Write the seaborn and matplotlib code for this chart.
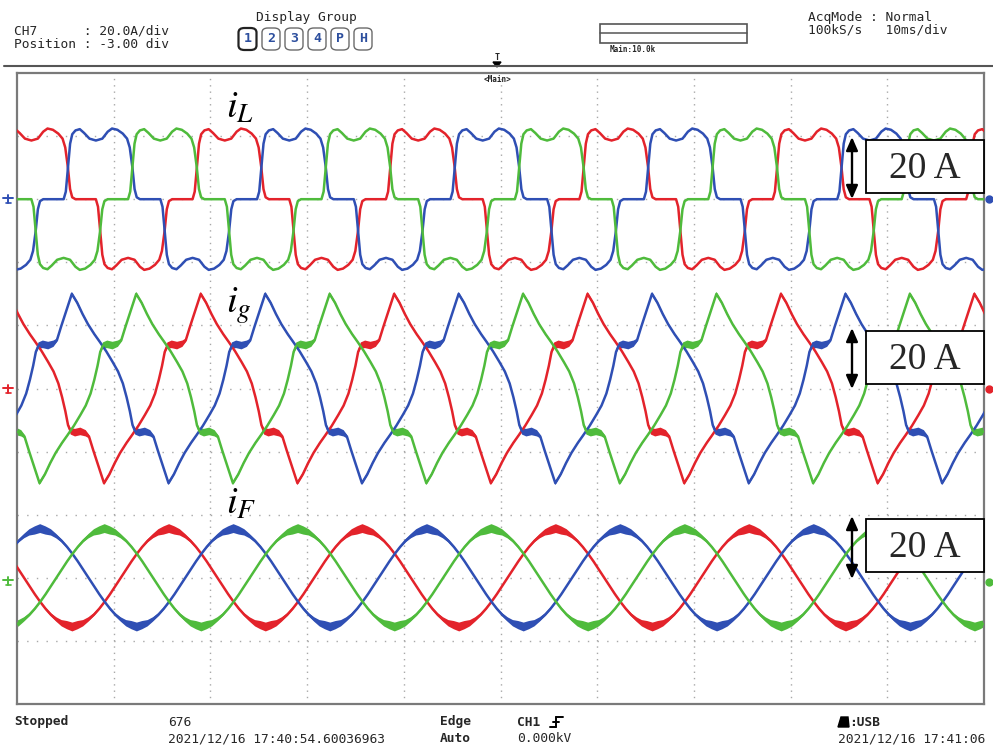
import numpy as np
import pandas as pd
import matplotlib
matplotlib.use("Agg")
import matplotlib.pyplot as plt
import seaborn as sns
from matplotlib.patches import Rectangle, FancyBboxPatch, Polygon
from matplotlib.lines import Line2D

# ------------------------------------------------------------------ data
PERIOD_MS = 20.0          # 50 Hz fundamental
PHASES = ["red", "blue", "green"]

# i_L : one period of the red phase, degrees from its rise to the upper level, value in div
IL_DEG = [-8, -4, 0, 4, 8, 14, 22, 30, 40, 52, 64, 74, 82, 92, 102, 110, 115, 120, 124, 128, 134,
          172, 176, 180, 184, 188, 194, 202, 210, 220, 232, 244, 254, 262, 272, 282, 290, 295, 300,
          304, 308, 314]
IL_VAL = [0.0, 0.12, 0.50, 0.88, 1.03, 1.09, 1.11, 1.05, 0.96, 0.93, 0.96, 1.07, 1.12, 1.10, 1.04,
          0.96, 0.82, 0.50, 0.16, 0.03, 0.0,
          0.0, -0.12, -0.50, -0.88, -1.03, -1.09, -1.11, -1.05, -0.96, -0.93, -0.96, -1.07, -1.12,
          -1.10, -1.04, -0.96, -0.82, -0.50, -0.16, -0.03, 0.0]
IL_NOISE = [0.01] * len(IL_DEG)   # half-thickness of the noisy trace, div
IL_REF_MS = {"red": -1.40, "blue": 5.27, "green": 11.93}

# i_g : one period, degrees from the positive peak, value in div
IG_DEG = [0, 10, 20, 30, 42, 52, 64, 76, 86, 95, 102, 108, 113, 118, 126, 136, 146, 152, 160, 170,
          180, 190, 200, 210, 222, 232, 244, 256, 266, 275, 282, 288, 293, 298, 306, 316, 326, 332,
          340, 350]
IG_VAL = [1.50, 1.36, 1.18, 1.02, 0.86, 0.74, 0.59, 0.42, 0.27, 0.08, -0.14, -0.36, -0.58, -0.68,
          -0.70, -0.68, -0.71, -0.76, -0.98, -1.24,
          -1.50, -1.36, -1.18, -1.02, -0.86, -0.74, -0.59, -0.42, -0.27, -0.08, 0.14, 0.36, 0.58,
          0.68, 0.70, 0.68, 0.71, 0.76, 0.98, 1.24]
IG_NOISE = [0.03, 0.025, 0.02, 0.015, 0.015, 0.015, 0.012, 0.01, 0.01, 0.01, 0.01, 0.015, 0.03,
            0.05, 0.06, 0.06, 0.05, 0.03, 0.02, 0.02,
            0.03, 0.025, 0.02, 0.015, 0.015, 0.015, 0.012, 0.01, 0.01, 0.01, 0.01, 0.015, 0.03,
            0.05, 0.06, 0.06, 0.05, 0.03, 0.02, 0.02]
IG_REF_MS = {"red": -1.00, "blue": 5.67, "green": 12.33}

# i_F : one period, degrees from the positive peak, value in div
IF_DEG = list(range(0, 360, 10))
IF_VAL = [0.78, 0.75, 0.72, 0.66, 0.585, 0.49, 0.38, 0.26, 0.13, 0.0, -0.13, -0.26, -0.38, -0.49,
          -0.585, -0.66, -0.72, -0.75, -0.78, -0.75, -0.72, -0.66, -0.585, -0.49, -0.38, -0.26,
          -0.13, 0.0, 0.13, 0.26, 0.38, 0.49, 0.585, 0.66, 0.72, 0.75]
IF_NOISE = [0.07, 0.065, 0.05, 0.035, 0.025, 0.02, 0.015, 0.012, 0.012, 0.012, 0.012, 0.012,
            0.015, 0.02, 0.025, 0.035, 0.05, 0.065,
            0.07, 0.065, 0.05, 0.035, 0.025, 0.02, 0.015, 0.012, 0.012, 0.012, 0.012, 0.012,
            0.015, 0.02, 0.025, 0.035, 0.05, 0.065]
IF_REF_MS = {"blue": 2.40, "green": 9.07, "red": 15.73}

CHANNELS = [("iL", IL_DEG, IL_VAL, IL_NOISE, IL_REF_MS),
            ("ig", IG_DEG, IG_VAL, IG_NOISE, IG_REF_MS),
            ("iF", IF_DEG, IF_VAL, IF_NOISE, IF_REF_MS)]

# ------------------------------------------------------------------ layout / style
W, H = 993, 751
ZERO_DIV = {"iL": 8.0, "ig": 5.0, "iF": 2.0}
COLORS = {"red": "#e3232b", "blue": "#2f4fb4", "green": "#4fbb3c"}
MONO = ["DejaVu Sans Mono"]


def P(x, y):
    return x / W, 1 - y / H


rows = []
for ch, deg, val, noise, refs in CHANNELS:
    deg = np.asarray(deg, float)
    val = np.asarray(val, float)
    noise = np.asarray(noise, float)
    for ph in PHASES:
        ts, ys, ns = [], [], []
        for k in range(-2, 8):
            ts.append(refs[ph] + (deg / 360.0 + k) * PERIOD_MS)
            ys.append(val + ZERO_DIV[ch])
            ns.append(noise)
        t = np.concatenate(ts)
        y = np.concatenate(ys)
        n = np.concatenate(ns)
        m = (t > -3) & (t < 103)
        rows.append(pd.DataFrame({"t": t[m], "y": y[m], "lo": y[m] - n[m], "hi": y[m] + n[m],
                                  "phase": ph, "unit": f"{ch}-{ph}"}))
df = pd.concat(rows, ignore_index=True)

sns.set_style("white")
fig = plt.figure(figsize=(W / 100, H / 100), dpi=100)
fig.patch.set_facecolor("white")
ax = fig.add_axes([17 / W, 1 - 704 / H, 967 / W, 631 / H])
ax.set_xlim(0, 100)
ax.set_ylim(0, 10)
for s in ax.spines.values():
    s.set_color("#7a7a7a")
    s.set_linewidth(1.6)

# dotted graticule
for x in range(10, 100, 10):
    ax.axvline(x, color="#a8a8a8", lw=1.0, ls=(0, (1.0, 3.54)), zorder=1)
for yv in range(1, 10):
    ax.axhline(yv, color="#a8a8a8", lw=1.0, ls=(0, (1.0, 5.96)), zorder=1)

# noisy band of each trace
for unit, g in df.groupby("unit", sort=False):
    ax.fill_between(g["t"], g["lo"], g["hi"], color=COLORS[g["phase"].iloc[0]], lw=0, zorder=2)

sns.lineplot(data=df, x="t", y="y", hue="phase", hue_order=PHASES, palette=COLORS,
             units="unit", estimator=None, sort=False, legend=False, lw=1.8, ax=ax, zorder=3)
ax.set_xlim(0, 100)
ax.set_ylim(0, 10)
ax.set_xticks([])
ax.set_yticks([])
ax.set_xlabel("")
ax.set_ylabel("")

# ------------------------------------------------------------------ labels on the traces
plt.rcParams["mathtext.fontset"] = "stix"
for txt, yb in [(r"$i_L$", 118), (r"$i_g$", 313), (r"$i_F$", 514)]:
    fig.text(*P(226, yb), txt, fontsize=28, color="black", va="baseline", ha="left")

# scale boxes with double arrows
for top, bot, box_top, box_bot, base in [(137, 199, 140, 193, 178), (328, 389, 331, 384, 369),
                                         (516, 579, 519, 572, 557)]:
    fig.add_artist(Rectangle(P(866, box_bot), 118 / W, (box_bot - box_top) / H,
                             transform=fig.transFigure, facecolor="white", edgecolor="black",
                             lw=1.3, zorder=10))
    fig.text(*P(925, base), "20 A", family=["Liberation Serif"], fontsize=27, ha="center",
             va="baseline", zorder=11)
    ax.annotate("", xy=P(852, top), xytext=P(852, bot), xycoords="figure fraction",
                textcoords="figure fraction",
                arrowprops=dict(arrowstyle="<|-|>,head_length=0.8,head_width=0.35", lw=1.7,
                                color="black", shrinkA=0, shrinkB=0), zorder=12,
                annotation_clip=False)

# channel ground markers (left) and right edge markers
for yy, c in [(198, COLORS["blue"]), (388, COLORS["red"]), (580, COLORS["green"])]:
    fig.add_artist(Line2D([3 / W, 13 / W], [1 - yy / H] * 2, color=c, lw=1.4))
    fig.add_artist(Line2D([8 / W, 8 / W], [1 - (yy - 3) / H, 1 - (yy + 5) / H], color=c, lw=1.4))
    fig.add_artist(Line2D([5.5 / W, 10.5 / W], [1 - (yy + 5) / H] * 2, color=c, lw=1.2))
for yy, c in [(199, COLORS["blue"]), (389, COLORS["red"]), (582, COLORS["green"])]:
    fig.add_artist(Line2D([989 / W], [1 - yy / H], marker="o", ms=5, color=c, mec=c))

# ------------------------------------------------------------------ header
fig.add_artist(Line2D([4 / W, 1.0], [1 - 66 / H] * 2, color="#555555", lw=1.5))
fig.text(*P(14, 31), "CH7      : 20.0A/div", family=MONO, fontsize=9.3, va="center")
fig.text(*P(14, 44), "Position : -3.00 div", family=MONO, fontsize=9.3, va="center")
fig.text(*P(306, 17), "Display Group", family=MONO, fontsize=9.3, va="center", ha="center")
for i, (lab, cx) in enumerate(zip(["1", "2", "3", "4", "P", "H"],
                                  [247.5, 271, 294, 317, 340, 363])):
    fig.add_artist(FancyBboxPatch(P(cx - 9, 50), 18 / W, 22 / H,
                                  boxstyle="round,pad=0.0,rounding_size=0.006",
                                  transform=fig.transFigure, facecolor="white",
                                  edgecolor="#222222" if i == 0 else "#6a6a6a",
                                  lw=1.6 if i == 0 else 1.0))
    fig.text(*P(cx, 39), lab, family=MONO, fontsize=9.5, weight="bold", color="#2d4f9e",
             ha="center", va="center")
fig.add_artist(Rectangle(P(600, 43), 147 / W, 19 / H, transform=fig.transFigure,
                         facecolor="white", edgecolor="#555555", lw=1.2))
fig.add_artist(Line2D([600 / W, 747 / W], [1 - 33 / H] * 2, color="#555555", lw=1.1))
fig.text(*P(610, 50), "Main:10.0k", family=MONO, fontsize=5.5, weight="bold", va="center")
fig.text(*P(808, 17), "AcqMode : Normal", family=MONO, fontsize=9.3, va="center")
fig.text(*P(808, 30), "100kS/s   10ms/div", family=MONO, fontsize=9.3, va="center")
fig.text(*P(497, 58), "T", family=MONO, fontsize=6, weight="bold", ha="center", va="center")
fig.add_artist(Polygon([P(493, 62), P(501, 62), P(497, 67)], closed=True,
                       transform=fig.transFigure, color="black"))
fig.text(*P(497, 80), "<Main>", family=MONO, fontsize=5.5, weight="bold", ha="center",
         va="center")

# ------------------------------------------------------------------ footer
FS = 9.3
fig.text(*P(14, 722), "Stopped", family=MONO, fontsize=FS, weight="bold", va="center")
fig.text(*P(168, 722), "676", family=MONO, fontsize=FS, va="center")
fig.text(*P(168, 739), "2021/12/16 17:40:54.60036963", family=MONO, fontsize=FS, va="center")
fig.text(*P(440, 722), "Edge", family=MONO, fontsize=FS, weight="bold", va="center")
fig.text(*P(440, 739), "Auto", family=MONO, fontsize=FS, weight="bold", va="center")
fig.text(*P(517, 722), "CH1", family=MONO, fontsize=FS, weight="bold", va="center")
for xs, ys in [([550, 556], [727, 727]), ([556, 556], [727, 717]), ([556, 563], [717, 717]),
               ([553, 559], [722, 722])]:
    fig.add_artist(Line2D([x / W for x in xs], [1 - y / H for y in ys], color="black", lw=1.4))
fig.text(*P(517, 739), "0.000kV", family=MONO, fontsize=FS, va="center")
fig.add_artist(Polygon([P(838, 727), P(849, 727), P(848, 717), P(841, 717)], closed=True,
                       transform=fig.transFigure, color="black"))
fig.text(*P(849, 722), ":USB", family=MONO, fontsize=FS, weight="bold", va="center")
fig.text(*P(838, 739), "2021/12/16 17:41:06", family=MONO, fontsize=FS, va="center")

fig.savefig("out.png", dpi=100, facecolor="white")
